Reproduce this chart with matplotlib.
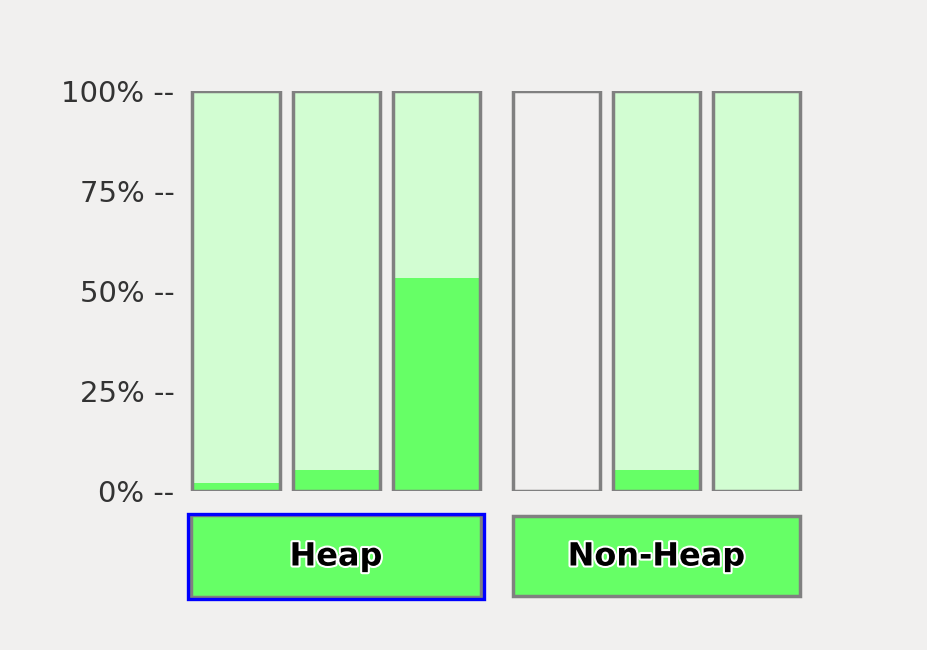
import matplotlib
matplotlib.use("Agg")
import matplotlib.pyplot as plt
from matplotlib.patches import Rectangle
import matplotlib.patheffects as pe

# Data
pools = ["Heap 1", "Heap 2", "Heap 3", "Non-Heap 1", "Non-Heap 2", "Non-Heap 3"]
used_pct = [2, 5.25, 53.25, 0, 5.25, 0]
has_max = [True, True, True, False, True, True]
groups = ["Heap", "Non-Heap"]
tick_vals = [0, 25, 50, 75, 100]
tick_labels = ["0% --", "25% --", "50% --", "75% --", "100% --"]

BG = "#f1f0ef"
LIGHT = "#d2fdd2"
GREEN = "#66ff66"
GRAY = "#808080"

W, H = 928, 650
fig = plt.figure(figsize=(W / 100, H / 100), dpi=100, facecolor=BG)
x0, x1 = 180, 810
y0, y1 = 491, 91
ax = fig.add_axes([x0 / W, (H - y0) / H, (x1 - x0) / W, (y0 - y1) / H])
ax.set_facecolor(BG)
ax.set_xlim(x0, x1)
ax.set_ylim(0, 100)
for s in ax.spines.values():
    s.set_visible(False)
ax.set_xticks([])
ax.set_yticks(tick_vals)
ax.set_yticklabels(tick_labels, fontsize=21, color="#333333")
ax.tick_params(axis="y", length=0, pad=4)

centers = [236, 336, 436, 556, 656, 756]
lw = 2.5
for c, v, m in zip(centers, used_pct, has_max):
    ax.bar(c, 100, width=87, color=LIGHT if m else BG, edgecolor="none", zorder=1)
    ax.bar(c, v, width=87, color=GREEN, edgecolor="none", zorder=2)
    ax.bar(c, 100, width=87, color="none", edgecolor=GRAY, linewidth=lw, zorder=3)

# group buttons (in data units: 4 px per %)
def ypx(p):
    return (y0 - p) / 4.0

boxes = [(191, 481, 515, 597), (513, 800, 516, 596)]
for (bx0, bx1, by0, by1), g in zip(boxes, groups):
    r = Rectangle((bx0, ypx(by1)), bx1 - bx0, ypx(by0) - ypx(by1), facecolor=GREEN,
                  edgecolor=GRAY, linewidth=lw, clip_on=False, zorder=2)
    ax.add_patch(r)
    t = ax.text((bx0 + bx1) / 2, ypx((by0 + by1) / 2 + 1), g, ha="center", va="center",
                fontsize=23, fontweight="bold", color="black", clip_on=False, zorder=4)
    t.set_path_effects([pe.withStroke(linewidth=3, foreground="white")])
# focus border around Heap
ax.add_patch(Rectangle((188.5, ypx(599)), 295, ypx(513.5) - ypx(599), facecolor="none",
                       edgecolor="#0000ff", linewidth=2.4, clip_on=False, zorder=3))

fig.savefig("out.png", dpi=100, facecolor=BG)
